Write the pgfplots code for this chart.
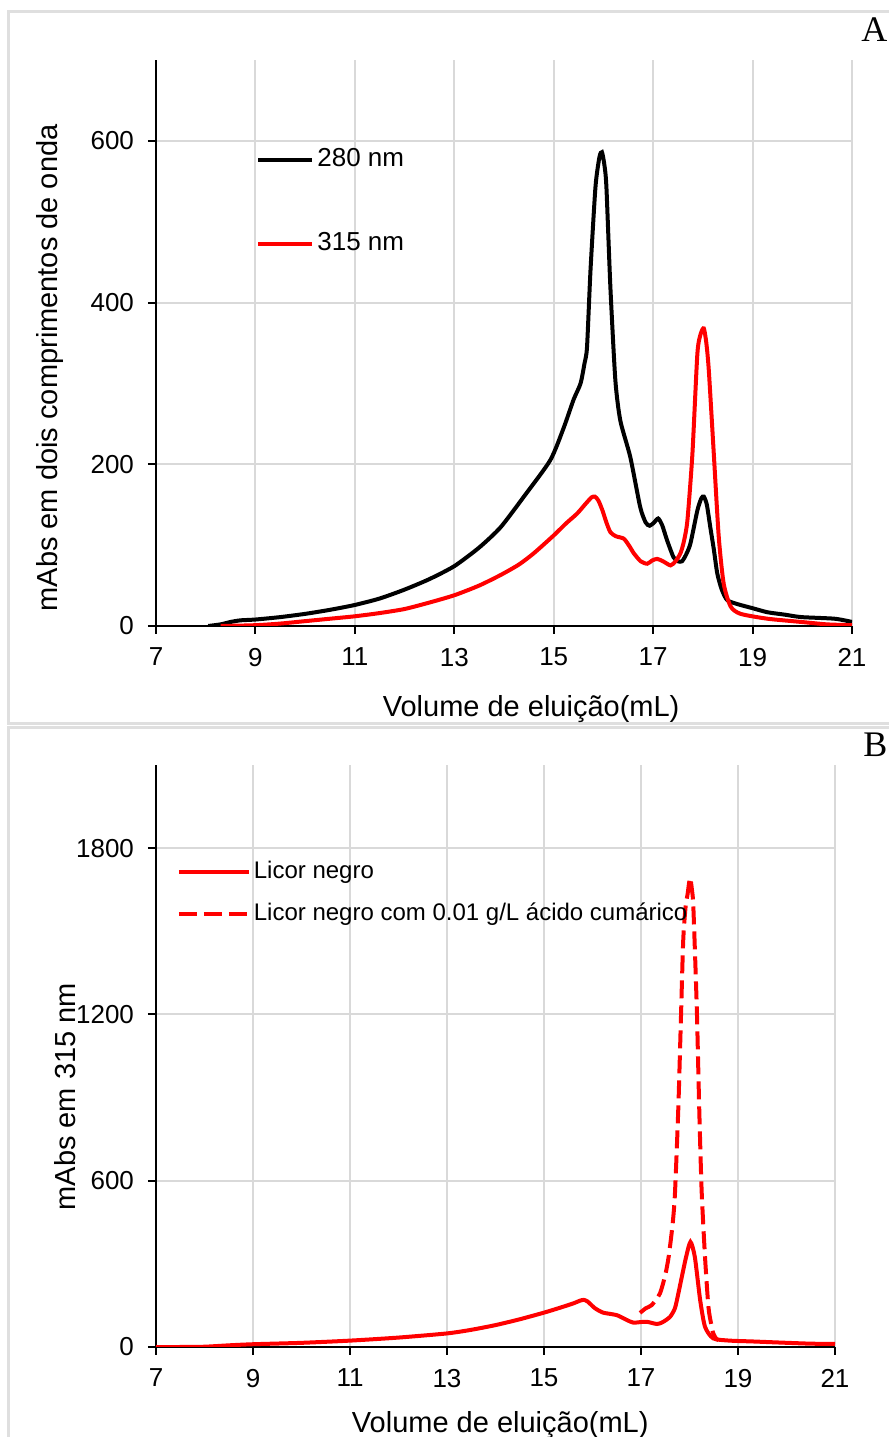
\documentclass[border=0pt]{standalone}
\usepackage{fontspec}
\setmainfont{Liberation Sans}
\newfontfamily\seriffont{Liberation Serif}
\usepackage{pgfplots}
\usepackage{pgfplotstable}
\pgfplotsset{compat=1.18}

\pgfplotstableread{
x y
8.05 0
8.3 2
8.5 5
8.7 7
9.0 8
9.5 11
10.0 15
10.5 20
11.0 26
11.5 34
12.0 45
12.5 58
13.0 74
13.5 97
13.93 122
14.4 160
14.93 205
15.2 245
15.4 280
15.54 300
15.62 325
15.67 345
15.74 440
15.84 543
15.92 580
15.97 586
16.02 570
16.06 543
16.14 419
16.24 304
16.34 254
16.54 209
16.74 147
16.85 128
16.93 124
17.02 128
17.10 133
17.18 125
17.28 106
17.41 85
17.5 80
17.58 80
17.66 88
17.75 102
17.89 143
17.97 158
18.02 160
18.08 150
18.15 122
18.22 95
18.29 65
18.38 45
18.49 32
18.7 27
19.0 22
19.3 17
19.65 14
19.98 11
20.65 9
21.0 5
}\blackA

\pgfplotstableread{
x y
8.3 0
9.0 1
9.5 3
10.0 6
10.5 9
11.0 12
11.5 16
12.0 21
12.5 29
13.0 38
13.5 50
13.93 63
14.3 76
14.6 90
15.0 112
15.25 127
15.47 139
15.64 151
15.76 159
15.83 160
15.9 155
15.98 143
16.06 128
16.14 116
16.25 111
16.41 108
16.52 99
16.61 90
16.75 80
16.88 77
16.98 81
17.08 83
17.2 80
17.35 75
17.45 80
17.55 90
17.62 105
17.69 131
17.79 213
17.89 337
17.96 362
18.02 368
18.07 350
18.12 316
18.22 213
18.32 110
18.42 52
18.56 24
18.76 15
19.3 9
19.98 5
20.5 2
21.0 1
}\redA

\pgfplotstableread{
x y
7.0 0
7.5 0
8.0 1
8.5 6
9.0 10
10.0 15
11.0 23
12.0 34
13.0 49
13.5 62
14.0 79
14.5 100
15.0 124
15.3 140
15.6 157
15.74 167
15.82 170
15.9 164
16.05 140
16.22 124
16.5 115
16.7 98
16.84 88
17.0 90
17.12 91
17.33 83
17.45 90
17.6 109
17.7 140
17.77 193
17.85 260
17.93 325
18.02 379
18.11 325
18.22 169
18.32 73
18.49 31
18.83 23
19.3 20
19.87 16
20.5 12
21.0 11
}\solidB

\pgfplotstableread{
x y
16.98 123
17.1 140
17.22 151
17.39 193
17.5 260
17.57 325
17.65 440
17.70 553
17.77 865
17.82 1165
17.87 1465
17.92 1590
17.96 1633
18.01 1693
18.05 1650
18.08 1585
18.15 1225
18.20 865
18.25 565
18.32 325
18.39 145
18.45 80
18.49 49
18.55 30
18.6 25
}\dashB

\pgfplotsset{
  myaxis/.style={
    scale only axis,
    anchor=south west,
    xmin=7, xmax=21, ymin=0,
    xtick={7,9,...,21},
    axis x line=bottom, axis y line=left,
    axis line style={-, line width=1pt, black},
    tick align=outside,
    tick style={black, line width=1pt},
    major tick length=4pt,
    grid=major,
    major grid style={color=gray!30, line width=1pt},
    /pgf/number format/assume math mode=true,
    /pgf/number format/1000 sep={},
    ticklabel style={font=\fontsize{13}{15}\selectfont},
    xticklabel style={yshift=-3.5pt},
    yticklabel style={xshift=-3.5pt},
    label style={font=\fontsize{14.5}{17}\selectfont},
    legend cell align=left,
    every axis plot/.append style={line width=2pt},
  }
}

\begin{document}
\begin{tikzpicture}[x=1pt,y=1pt]
\useasboundingbox (0,0) rectangle (444.5,718.5);
\draw[color=gray!25, line width=1.5pt] (4,356.5) rectangle (455,712.5);
\draw[color=gray!25, line width=1.5pt] (4,-10) rectangle (455,354.5);
\node[font=\seriffont\fontsize{18}{18}\selectfont, anchor=base west, inner sep=0pt] at (430.5,697.5) {A};
\node[font=\seriffont\fontsize{18}{18}\selectfont, anchor=base west, inner sep=0pt] at (431.5,340) {B};

\begin{axis}[myaxis,
  at={(78pt,405.5pt)}, width=348pt, height=283pt,
  ymax=700, ytick={0,200,400,600},
  xlabel={Volume de eluição(mL)},
  ylabel={mAbs em dois comprimentos de onda},
  xlabel style={at={(axis description cs:0.539,0)}, anchor=center, yshift=-41.5pt},
  ylabel style={at={(axis description cs:-0.1523,0.456)}, anchor=center},
  legend style={at={(axis cs:9.02,593)}, anchor=north west, draw=none, fill=none,
    inner sep=0pt, outer sep=0pt, row sep=29pt, column sep=1.5pt,
    nodes={inner sep=0pt, text height=10pt, text depth=3pt, font=\fontsize{13}{15}\selectfont}},
  legend image code/.code={\draw[#1] (0pt,0pt) -- (27pt,0pt);},
]
\addplot[black, smooth, tension=0.4] table[x=x,y=y] {\blackA};
\addlegendentry{280 nm}
\addplot[red, smooth, tension=0.4] table[x=x,y=y] {\redA};
\addlegendentry{315 nm}
\end{axis}

\begin{axis}[myaxis,
  at={(78pt,45pt)}, width=339.5pt, height=291pt,
  ymax=2100, ytick={0,600,1200,1800},
  xlabel={Volume de eluição(mL)},
  ylabel={mAbs em 315 nm},
  xlabel style={at={(axis description cs:0.507,0)}, anchor=center, yshift=-39pt},
  ylabel style={at={(axis description cs:-0.134,0.43)}, anchor=center},
  legend style={at={(axis cs:7.43,1757)}, anchor=north west, draw=none, fill=none,
    inner sep=0pt, outer sep=0pt, row sep=9pt, column sep=1.5pt,
    nodes={inner sep=0pt, text height=9pt, text depth=3pt, font=\fontsize{12}{14}\selectfont}},
  legend image code/.code={\draw[#1] (0pt,0pt) -- (35pt,0pt);},
]
\addplot[red, smooth, tension=0.4] table[x=x,y=y] {\solidB};
\addlegendentry{Licor negro}
\addplot[red, smooth, tension=0.4, dash pattern=on 9pt off 3.5pt] table[x=x,y=y] {\dashB};
\addlegendentry{Licor negro com 0.01 g/L ácido cumárico}
\end{axis}
\end{tikzpicture}
\end{document}
